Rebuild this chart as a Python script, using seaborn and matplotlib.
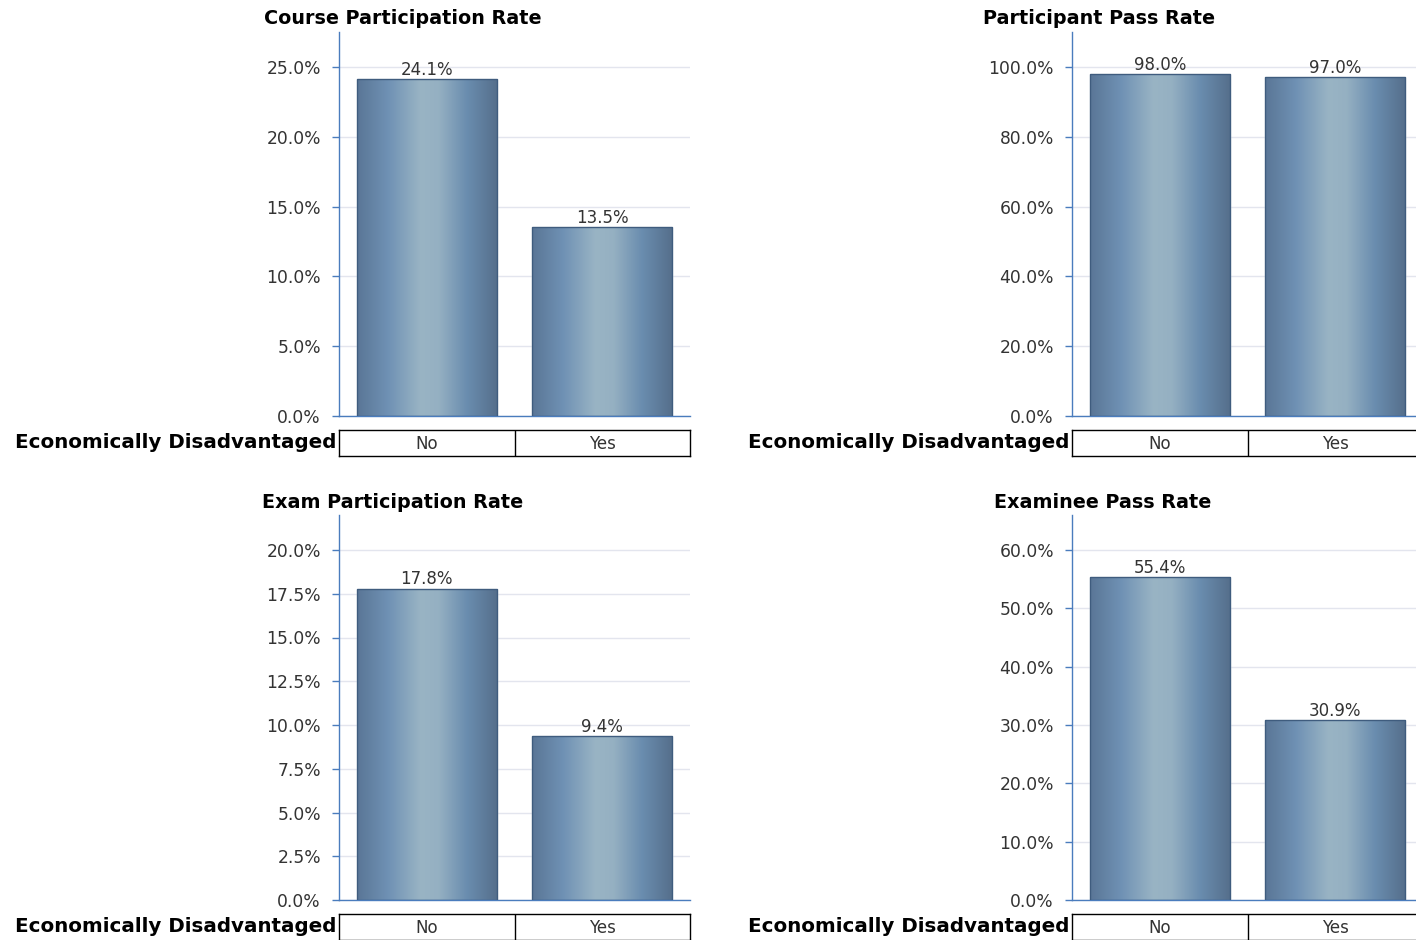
import numpy as np
import pandas as pd
import seaborn as sns
import matplotlib.pyplot as plt
from matplotlib.colors import LinearSegmentedColormap
from matplotlib.patches import Rectangle
from matplotlib.ticker import PercentFormatter

# data
groups = ['No', 'Yes']
course_participation = [24.1, 13.5]
participant_pass = [98.0, 97.0]
exam_participation = [17.8, 9.4]
examinee_pass = [55.4, 30.9]

titles = ['Course Participation Rate', 'Participant Pass Rate',
          'Exam Participation Rate', 'Examinee Pass Rate']
series = [course_participation, participant_pass, exam_participation, examinee_pass]
y_ticks = [np.arange(0, 26, 5), np.arange(0, 101, 20),
           np.arange(0, 20.1, 2.5), np.arange(0, 61, 10)]
y_tops = [27.5, 110, 22, 66]

sns.set_style('white')
plt.rcParams['font.family'] = ['DejaVu Sans']

W, H = 1416, 940
fig = plt.figure(figsize=(W / 100, H / 100), dpi=100)

# bar shading like the original (dark edges, light centre)
grad = LinearSegmentedColormap.from_list('bar', [
    (0.0, '#5a7696'), (0.22, '#6f91b4'), (0.45, '#99b4c4'),
    (0.58, '#95b0c2'), (0.78, '#6a8daf'), (1.0, '#556e8b')])
spine_col = '#4a7cbd'
text_col = '#333333'

# left x, top y, bottom y of each panel in pixels
boxes = [(339, 32, 416), (1072, 32, 416), (339, 515, 900), (1072, 515, 900)]
title_pos = [(403, 19), (1099, 19), (393, 502), (1103, 502)]
ax_w = 351

for i, (left, top, bottom) in enumerate(boxes):
    ax = fig.add_axes([left / W, 1 - bottom / H, ax_w / W, (bottom - top) / H])
    df = pd.DataFrame({'group': groups, 'rate': series[i]})
    sns.barplot(data=df, x='group', y='rate', ax=ax, width=0.8, color='#6f8fae')

    for p in list(ax.patches):
        x0, y0 = p.get_x(), p.get_y()
        w, h = p.get_width(), p.get_height()
        im = ax.imshow(np.linspace(0, 1, 256).reshape(1, -1), cmap=grad, aspect='auto',
                       extent=(x0, x0 + w, y0, y0 + h), zorder=2)
        im.set_clip_path(p)
        ax.add_patch(Rectangle((x0, y0), w, h, fill=False, edgecolor='#3f5c7e',
                               lw=1, zorder=3))
        ax.text(x0 + w / 2, y0 + h, f'{h:.1f}%', ha='center', va='bottom',
                fontsize=12, color=text_col, zorder=4)

    ax.set_xlim(-0.5, 1.5)
    ax.set_ylim(0, y_tops[i])
    ax.set_yticks(y_ticks[i])
    ax.yaxis.set_major_formatter(PercentFormatter(decimals=1))
    ax.set_xticks([])
    ax.set_xlabel('')
    ax.set_ylabel('')
    ax.grid(axis='y', color='#e3e5ee', lw=1, zorder=0)
    ax.set_axisbelow(True)
    for s in ['top', 'right']:
        ax.spines[s].set_visible(False)
    for s in ['left', 'bottom']:
        ax.spines[s].set_color(spine_col)
        ax.spines[s].set_linewidth(1)
    ax.tick_params(axis='y', direction='out', length=5, width=1, color=spine_col,
                   labelsize=12.3, labelcolor=text_col, pad=8, left=True)

    # category table under the axis
    tab = fig.add_axes([left / W, 1 - (bottom + 40) / H, ax_w / W, 26 / H])
    tab.set_xlim(-0.5, 1.5)
    tab.set_ylim(0, 1)
    tab.set_xticks([])
    tab.set_yticks([])
    for s in tab.spines.values():
        s.set_color('black')
        s.set_linewidth(1)
    tab.axvline(0.5, color='black', lw=1)
    for j, g in enumerate(groups):
        tab.text(j, 0.45, g, ha='center', va='center', fontsize=12, color=text_col)
    fig.text((left - 3) / W, 1 - (bottom + 27) / H, 'Economically Disadvantaged',
             ha='right', va='center', fontsize=14.3, fontweight='bold', color='black')

    tx, ty = title_pos[i]
    fig.text(tx / W, 1 - ty / H, titles[i], ha='center', va='center',
             fontsize=13.8, fontweight='bold', color='black')

fig.savefig('out.png', dpi=100)
